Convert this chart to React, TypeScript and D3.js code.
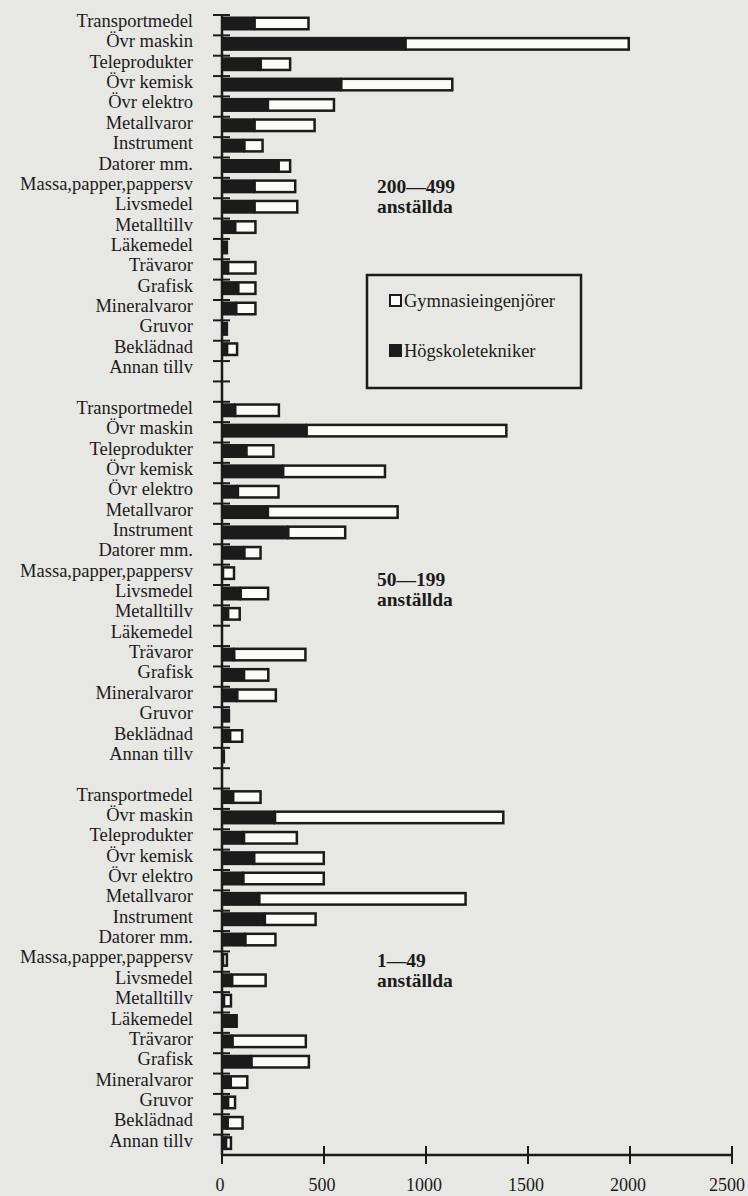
import React from "react";
import * as d3 from "d3";

const categories = [
  "Transportmedel", "Övr maskin", "Teleprodukter", "Övr kemisk", "Övr elektro",
  "Metallvaror", "Instrument", "Datorer mm.", "Massa,papper,pappersv", "Livsmedel",
  "Metalltillv", "Läkemedel", "Trävaror", "Grafisk", "Mineralvaror", "Gruvor",
  "Beklädnad", "Annan tillv",
];

const groupLabels = ["200—499", "50—199", "1—49"];
const groupSubLabel = "anställda";

const seriesNames = ["Gymnasieingenjörer", "Högskoletekniker"];

// Högskoletekniker (black, from 0)
const hogskole200 = [160, 900, 190, 585, 225, 160, 110, 278, 160, 160, 65, 30, 30, 80, 70, 30, 25, 0];
const hogskole50 = [65, 415, 120, 300, 78, 225, 325, 110, 5, 92, 30, 0, 60, 108, 75, 40, 40, 15];
const hogskole1 = [55, 260, 108, 158, 105, 183, 210, 115, 5, 50, 10, 78, 52, 145, 43, 30, 28, 20];

// Gymnasieingenjörer (white, stacked after black)
const gymnasie200 = [270, 1100, 150, 550, 330, 300, 95, 62, 205, 215, 105, 0, 140, 90, 100, 0, 55, 0];
const gymnasie50 = [220, 985, 138, 505, 205, 642, 285, 85, 60, 140, 63, 0, 355, 125, 195, 0, 65, 0];
const gymnasie1 = [140, 1125, 265, 347, 400, 1017, 255, 153, 25, 170, 40, 0, 365, 287, 87, 40, 79, 30];

const xTicks = [0, 500, 1000, 1500, 2000, 2500];

const W = 748;
const H = 1196;
const FONT = "'Liberation Serif', 'Times New Roman', serif";
const INK = "#1b1b1b";
const BG = "#e7e7e4";

export default function App() {
  const hog = [hogskole200, hogskole50, hogskole1];
  const gym = [gymnasie200, gymnasie50, gymnasie1];

  const rowKeys: string[] = [];
  groupLabels.forEach((_, g) => {
    categories.forEach((_, i) => rowKeys.push(`${g}-${i}`));
    if (g < groupLabels.length - 1) rowKeys.push(`gap${g}`);
  });

  const x = d3.scaleLinear().domain([0, 2500]).range([222, 732]);
  const y = d3.scaleBand<string>().domain(rowKeys).range([15, 1155]).padding(0);
  const barH = 14;
  const sw = 2.5;

  const bars: React.ReactNode[] = [];
  const labels: React.ReactNode[] = [];
  groupLabels.forEach((_, g) => {
    categories.forEach((c, i) => {
      const key = `${g}-${i}`;
      const top = (y(key) as number) + 1.5;
      const hv = hog[g][i];
      const gv = gym[g][i];
      if (hv > 0) {
        bars.push(
          <rect key={`h${key}`} x={x(0)} y={top} width={x(hv) - x(0)} height={barH} fill={INK} />
        );
      }
      if (gv > 0) {
        bars.push(
          <rect
            key={`g${key}`}
            x={x(hv) + (hv > 0 ? 0 : sw / 2)}
            y={top + sw / 2}
            width={x(hv + gv) - x(hv) - sw / 2 - (hv > 0 ? 0 : sw / 2)}
            height={barH - sw}
            fill="#fbfbfa"
            stroke={INK}
            strokeWidth={sw}
          />
        );
      }
      labels.push(
        <text
          key={`l${key}`}
          x={193}
          y={(y(key) as number) + 12}
          textAnchor="end"
          fontFamily={FONT}
          fontSize={18.5}
          fill={INK}
        >
          {c}
        </text>
      );
    });
  });

  const tickYs = rowKeys.map((k) => y(k) as number);

  const groupLabelPos = [
    { x: 377, y1: 193, y2: 213 },
    { x: 377, y1: 586, y2: 606 },
    { x: 377, y1: 967, y2: 987 },
  ];

  return (
    <svg
      width={W}
      height={H}
      style={{ position: "absolute", left: 0, top: 0, display: "block" }}
    >
      <rect x={0} y={0} width={W} height={H} fill={BG} />
      {bars}
      {labels}
      {/* left axis */}
      <line x1={x(0)} x2={x(0)} y1={14} y2={1155} stroke={INK} strokeWidth={2.5} />
      {tickYs.map((ty, i) => (
        <line key={`t${i}`} x1={213} x2={230} y1={ty} y2={ty} stroke={INK} strokeWidth={2} />
      ))}
      {/* bottom axis */}
      <line x1={x(0)} x2={x(2500)} y1={1155} y2={1155} stroke={INK} strokeWidth={2.5} />
      {xTicks.map((t) => (
        <g key={`xt${t}`}>
          <line x1={x(t)} x2={x(t)} y1={1146} y2={1164} stroke={INK} strokeWidth={2} />
          <text
            x={Math.min(x(t) - 2, W - 21)}
            y={1191}
            textAnchor="middle"
            fontFamily={FONT}
            fontSize={18}
            fill={INK}
          >
            {t}
          </text>
        </g>
      ))}
      {/* group labels */}
      {groupLabels.map((gl, g) => (
        <g key={`gl${g}`}>
          <text x={groupLabelPos[g].x} y={groupLabelPos[g].y1} fontFamily={FONT} fontSize={19.5} fontWeight="bold" fill={INK}>
            {gl}
          </text>
          <text x={groupLabelPos[g].x} y={groupLabelPos[g].y2} fontFamily={FONT} fontSize={19.5} fontWeight="bold" fill={INK}>
            {groupSubLabel}
          </text>
        </g>
      ))}
      {/* legend */}
      <rect x={367} y={275} width={214} height={113} fill="none" stroke={INK} strokeWidth={2.5} />
      <rect x={390} y={295} width={11} height={11} fill="#fbfbfa" stroke={INK} strokeWidth={2} />
      <text x={404} y={307} fontFamily={FONT} fontSize={18.5} fill={INK}>
        {seriesNames[0]}
      </text>
      <rect x={389} y={344} width={13} height={13} fill={INK} />
      <text x={404} y={357} fontFamily={FONT} fontSize={18.5} fill={INK}>
        {seriesNames[1]}
      </text>
    </svg>
  );
}
